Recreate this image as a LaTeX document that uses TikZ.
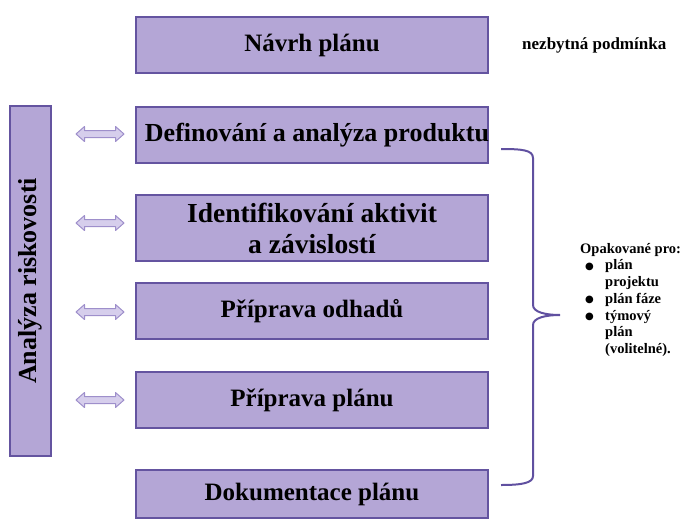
\documentclass[tikz,border=0pt]{standalone}
\usepackage{fontspec}
\setmainfont{Liberation Serif}
\newfontfamily\symfont{DejaVu Sans}
\definecolor{boxfill}{RGB}{180,166,214}
\definecolor{boxline}{RGB}{100,84,160}
\definecolor{arrfill}{RGB}{214,206,236}
\definecolor{arrline}{RGB}{158,143,203}
\definecolor{bracecol}{RGB}{96,80,160}
\newcommand{\blt}{\hspace*{5pt}\makebox[20pt][l]{\raisebox{0.5pt}{\symfont\fontsize{10}{10}\selectfont ●}}}
\begin{document}
\begin{tikzpicture}[x=1pt,y=-1pt,
  stepbox/.style={draw=boxline, fill=boxfill, line width=2pt, minimum width=352pt,
    inner sep=0pt, font=\fontsize{25}{31}\selectfont\bfseries, align=center},
  arrshape/.style={draw=arrline, fill=arrfill, line width=1pt, line join=round},
  sidetext/.style={font=\fontsize{14.5}{16.7}\selectfont\bfseries, inner sep=0pt, align=left}
]
\useasboundingbox (0,0) rectangle (686,523);

\node[stepbox, minimum height=56pt] (b1) at (312,45) {Návrh plánu};
\node[stepbox, minimum height=56pt, font=\fontsize{26}{31}\selectfont\bfseries] (b2) at (312,135) {\makebox[300pt][c]{\hspace*{10pt}Definování a analýza produktu}};
\node[stepbox, minimum height=66pt, font=\fontsize{27.5}{31}\selectfont\bfseries] (b3) at (312,228) {Identifikování aktivit\\a závislostí};
\node[stepbox, minimum height=56pt] (b4) at (312,311) {Příprava odhadů};
\node[stepbox, minimum height=56pt] (b5) at (312,400) {Příprava plánu};
\node[stepbox, minimum height=48pt] (b6) at (312,494) {Dokumentace plánu};

\node[draw=boxline, fill=boxfill, line width=2pt, rotate=90, minimum width=350pt,
  minimum height=41pt, inner sep=0pt, font=\fontsize{26}{30}\selectfont\bfseries]
  (risk) at (30.5,281) {Analýza riskovosti};

\foreach \y in {134,223,312,400}{
  \draw[arrshape] (76,\y) -- (84.5,\y-7.5) -- (84.5,\y-3.5) -- (115.5,\y-3.5) -- (115.5,\y-7.5)
    -- (124,\y) -- (115.5,\y+7.5) -- (115.5,\y+3.5) -- (84.5,\y+3.5) -- (84.5,\y+7.5) -- cycle;
}

\draw[bracecol, line width=2pt] (501,149) .. controls (522,149) and (533,150) .. (533,158)
  -- (533,305) .. controls (533,312) and (545,315) .. (560,315)
  .. controls (545,315) and (533,318) .. (533,325)
  -- (533,476) .. controls (533,483) and (522,485) .. (501,485);

\node[sidetext, anchor=west, font=\fontsize{17}{20}\selectfont\bfseries] (req) at (522,45) {nezbytná podmínka};

\node[sidetext, anchor=north west] (rep) at (580,243) {Opakované pro:\\
\blt plán\\
\hspace*{25pt}projektu\\
\blt plán fáze\\
\blt týmový\\
\hspace*{25pt}plán\\
\hspace*{25pt}(volitelné).};
\end{tikzpicture}
\end{document}
